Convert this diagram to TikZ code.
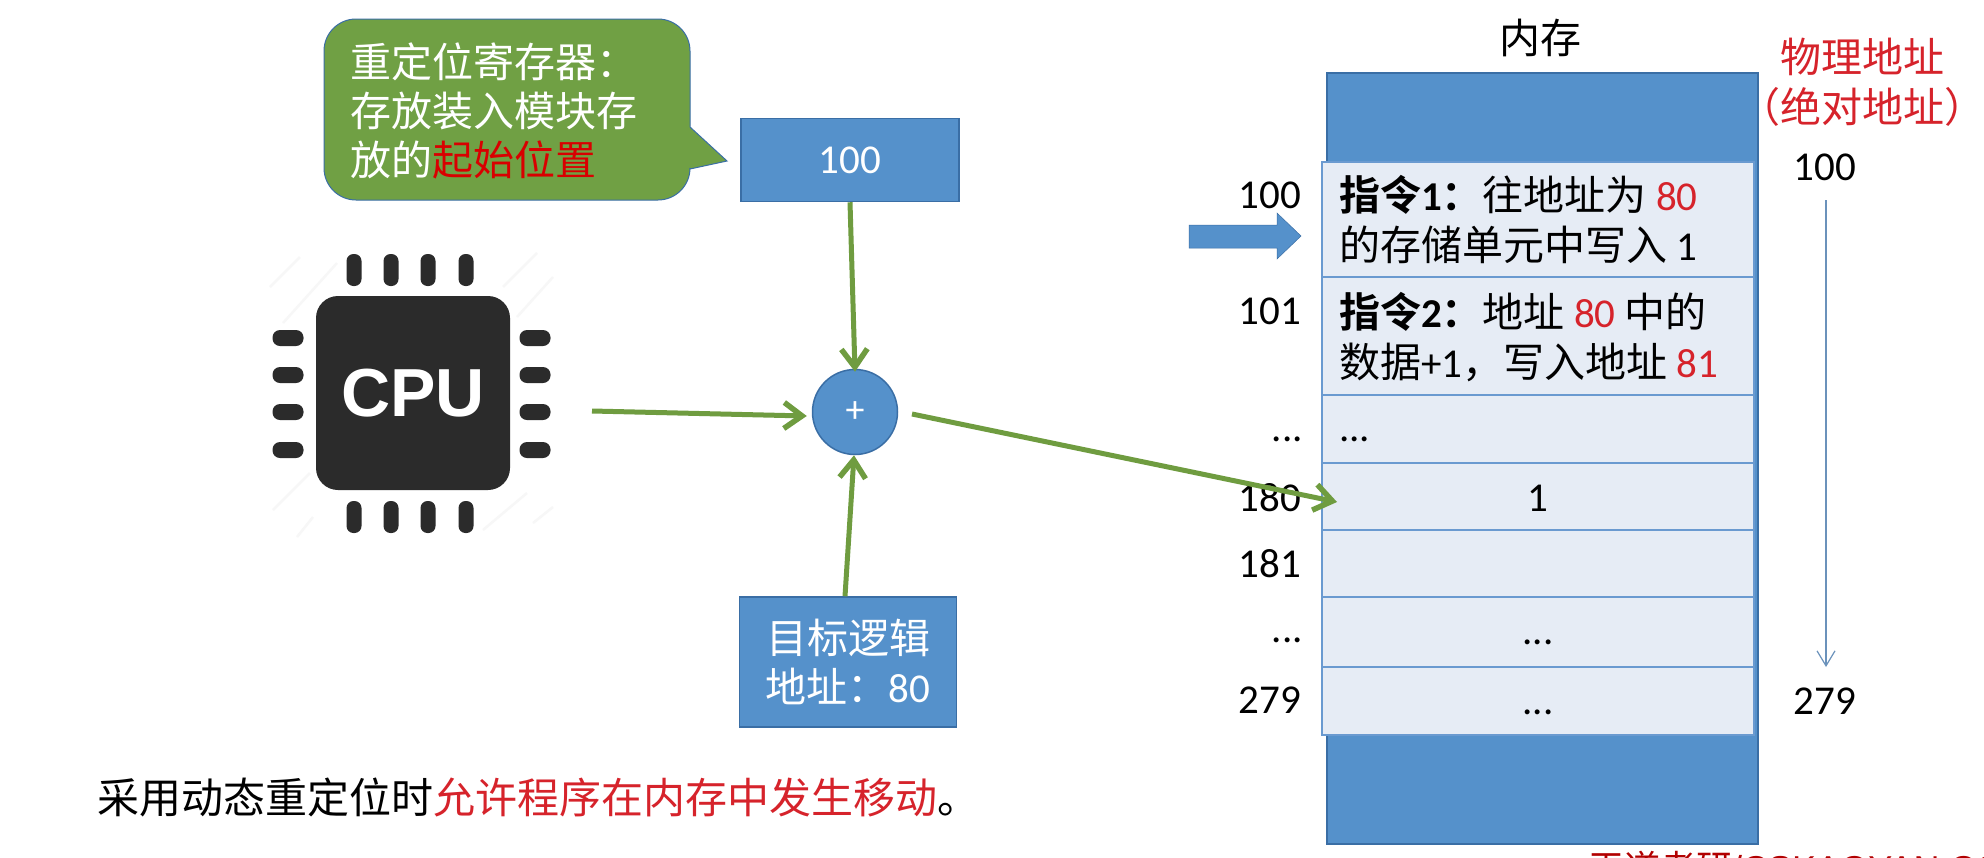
\documentclass[tikz,border=0pt]{standalone}
\usepackage{fontspec}
\setmainfont{Liberation Sans}
\newfontfamily\cjk{Noto Sans CJK SC}
\newfontfamily\cjkb{Noto Sans CJK SC Bold}
\newfontfamily\cali{Carlito}
\usetikzlibrary{arrows.meta}
\definecolor{bluefill}{HTML}{5591CB}
\definecolor{blueline}{HTML}{3A6EA5}
\definecolor{cellfill}{HTML}{E6ECF5}
\definecolor{cellline}{HTML}{6A9AD0}
\definecolor{calloutgreen}{HTML}{70A044}
\definecolor{arrowgreen}{HTML}{6F9C40}
\definecolor{redtxt}{HTML}{D6232B}
\definecolor{chip}{HTML}{2B2B2B}
\tikzset{
  x=1pt,y=-1pt,
  bluebox/.style={draw=blueline,line width=1.5pt,fill=bluefill,inner sep=0pt,text=white,align=center},
  cellbox/.style={draw=cellline,line width=2.5pt,fill=cellfill,anchor=north west,minimum width=432pt,inner sep=0pt,outer sep=0pt},
  flow/.style={draw=arrowgreen,line width=5pt,-{Straight Barb[length=18pt,width=26pt,line width=5.5pt]}},
  pinv/.style={fill=chip,rounded corners=7pt,draw=none,minimum width=15pt,minimum height=32pt,inner sep=0pt},
  pinh/.style={fill=chip,rounded corners=7.5pt,draw=none,minimum width=31pt,minimum height=16pt,inner sep=0pt},
  addr/.style={font=\cali\fontsize{41}{41}\selectfont,text=black,inner sep=0pt},
  cn/.style={font=\cjk\fontsize{41}{50}\selectfont,text=black,inner sep=0pt,align=left},
  hatch/.style={draw=gray!6,line width=2.5pt},
}
\newcommand{\rd}[1]{\textcolor{redtxt}{#1}}
\begin{document}
\begin{tikzpicture}
\useasboundingbox (0,0) rectangle (1984,857);
\clip (0,0) rectangle (1984,857);
\fill[white] (0,0) rectangle (1984,857);
% callout
\fill[calloutgreen,draw=blueline,line width=1pt]
  (356,19) -- (658,19) arc[start angle=-90,end angle=0,x radius=32pt,y radius=-32pt]
  -- (690,127) -- (727,161) -- (690,169)
  -- (690,168) arc[start angle=0,end angle=90,x radius=32pt,y radius=-32pt]
  -- (356,200) arc[start angle=90,end angle=180,x radius=32pt,y radius=-32pt]
  -- (324,51) arc[start angle=180,end angle=270,x radius=32pt,y radius=-32pt] -- cycle;
\node[font=\cjk\fontsize{41}{49}\selectfont,text=white,anchor=west,inner sep=0pt,align=left] (calloutlabel) at (350,111)
  {重定位寄存器：\\存放装入模块存\\放的\textcolor{red!85!black}{起始位置}};
% boxes
\node[bluebox,minimum width=218pt,minimum height=83pt,font=\cali\fontsize{41}{41}\selectfont] (base) at (850,160) {100};
\node[bluebox,minimum width=217pt,minimum height=130pt,font=\cjk\fontsize{41}{49}\selectfont] (logic) at (848,662) {目标逻辑\\地址：{\cali 80}};
\node[circle,draw=blueline,line width=1.5pt,fill=bluefill,minimum size=85pt,inner sep=0pt,text=white,font=\cali\fontsize{38}{38}\selectfont] (adder) at (855,412) {+};
% CPU
\draw[hatch] (270,287) -- (300,257) (283,323) -- (337,263) (503,287) -- (537,253) (517,317) -- (553,277)
  (273,510) -- (310,473) (297,537) -- (313,517) (483,530) -- (527,493) (533,523) -- (553,507);
\node[fill=chip,rounded corners=22pt,minimum width=194pt,minimum height=194pt,inner sep=0pt,text=white,font=\fontsize{68}{68}\selectfont\bfseries] (cpu) at (413,393) {CPU};
\foreach \i/\xx in {a/354,b/391,c/428,d/466}{
  \node[pinv] (pt\i) at (\xx,270) {};
  \node[pinv] (pb\i) at (\xx,517) {};
}
\foreach \i/\yy in {a/338,b/375,c/412,d/450}{
  \node[pinh] (pl\i) at (288,\yy) {};
  \node[pinh] (pr\i) at (535,\yy) {};
}
% memory
\node[draw=blueline,line width=2pt,fill=bluefill,anchor=north west,minimum width=431pt,minimum height=771pt,inner sep=0pt] (mem) at (1326,72) {};
\node[font=\cjk\fontsize{41}{41}\selectfont,inner sep=0pt] (memtitle) at (1540,38) {内存};
\node[cellbox,minimum height=115pt] (c1) at (1322,162) {};
\node[cellbox,minimum height=118pt] (c2) at (1322,277) {};
\node[cellbox,minimum height=68pt] (c3) at (1322,395) {};
\node[cellbox,minimum height=67pt] (c4) at (1322,463) {};
\node[cellbox,minimum height=67pt] (c5) at (1322,530) {};
\node[cellbox,minimum height=70pt] (c6) at (1322,597) {};
\node[cellbox,minimum height=68pt] (c7) at (1322,667) {};
\node[cn,anchor=west] (t1) at (1339,220) {{\cjkb 指令{\cali\bfseries 1}：}往地址为 \rd{\cali 80}\\的存储单元中写入 {\cali 1}};
\node[cn,anchor=west] (t2) at (1339,337) {{\cjkb 指令{\cali\bfseries 2}：}地址 \rd{\cali 80} 中的\\数据{\cali +1}，写入地址 \rd{\cali 81}};
\node[addr,anchor=west] (t3) at (1339,439) {...};
\node[addr] (t4) at (1538,498) {1};
\node[addr] (t6) at (1538,642) {...};
\node[addr] (t7) at (1538,712) {...};
% left addresses
\node[addr,anchor=east] (a1) at (1301,195) {100};
\node[addr,anchor=east] (a2) at (1301,311) {101};
\node[addr,anchor=east] (a3) at (1303,439) {...};
\node[addr,anchor=east] (a4) at (1301,498) {180};
\node[addr,anchor=east] (a5) at (1301,564) {181};
\node[addr,anchor=east] (a6) at (1303,640) {...};
\node[addr,anchor=east] (a7) at (1301,700) {279};
% right
\node[font=\cjk\fontsize{41}{50}\selectfont,text=redtxt,align=center,inner sep=0pt] (phys) at (1862,82) {物理地址\\（绝对地址）};
\node[addr] (r1) at (1825,167) {100};
\node[addr] (r2) at (1825,701) {279};
\coordinate (rs) at (1826,200);
\coordinate (re) at (1826,667);
\draw[draw=blueline!75!white,line width=1.2pt,-{Straight Barb[length=15pt,width=18pt,line width=1.2pt]}] (rs) -- (re);
% block arrow
\fill[bluefill,draw=blueline,line width=.5pt] (1189,225) -- (1277,225) -- (1277,213) -- (1301,236) -- (1277,259) -- (1277,248) -- (1189,248) -- cycle;
% connectors
\draw[flow] (base.south) -- ([yshift=-3pt]adder.north);
\draw[flow] ([xshift=-3pt]logic.north) -- ([xshift=-1pt]adder.south);
\coordinate (cpuout) at (592,411);
\draw[flow] (cpuout) -- ([xshift=-5pt,yshift=-4pt]adder.west);
\coordinate (memin) at (1337,502);
\coordinate (adderout) at (912,414);
\draw[flow] (adderout) -- (memin);
% footer
\node[font=\cjk\fontsize{42}{42}\selectfont,anchor=west,inner sep=0pt] (note) at (97,797) {采用动态重定位时\rd{允许程序在内存中发生移动}。};
\node[font=\cjk\fontsize{36}{36}\selectfont,text=red!70!black,anchor=west,inner sep=0pt] (mark) at (1588,868) {王道考研{\normalfont /CSKAOYAN.COM}};
\end{tikzpicture}
\end{document}
